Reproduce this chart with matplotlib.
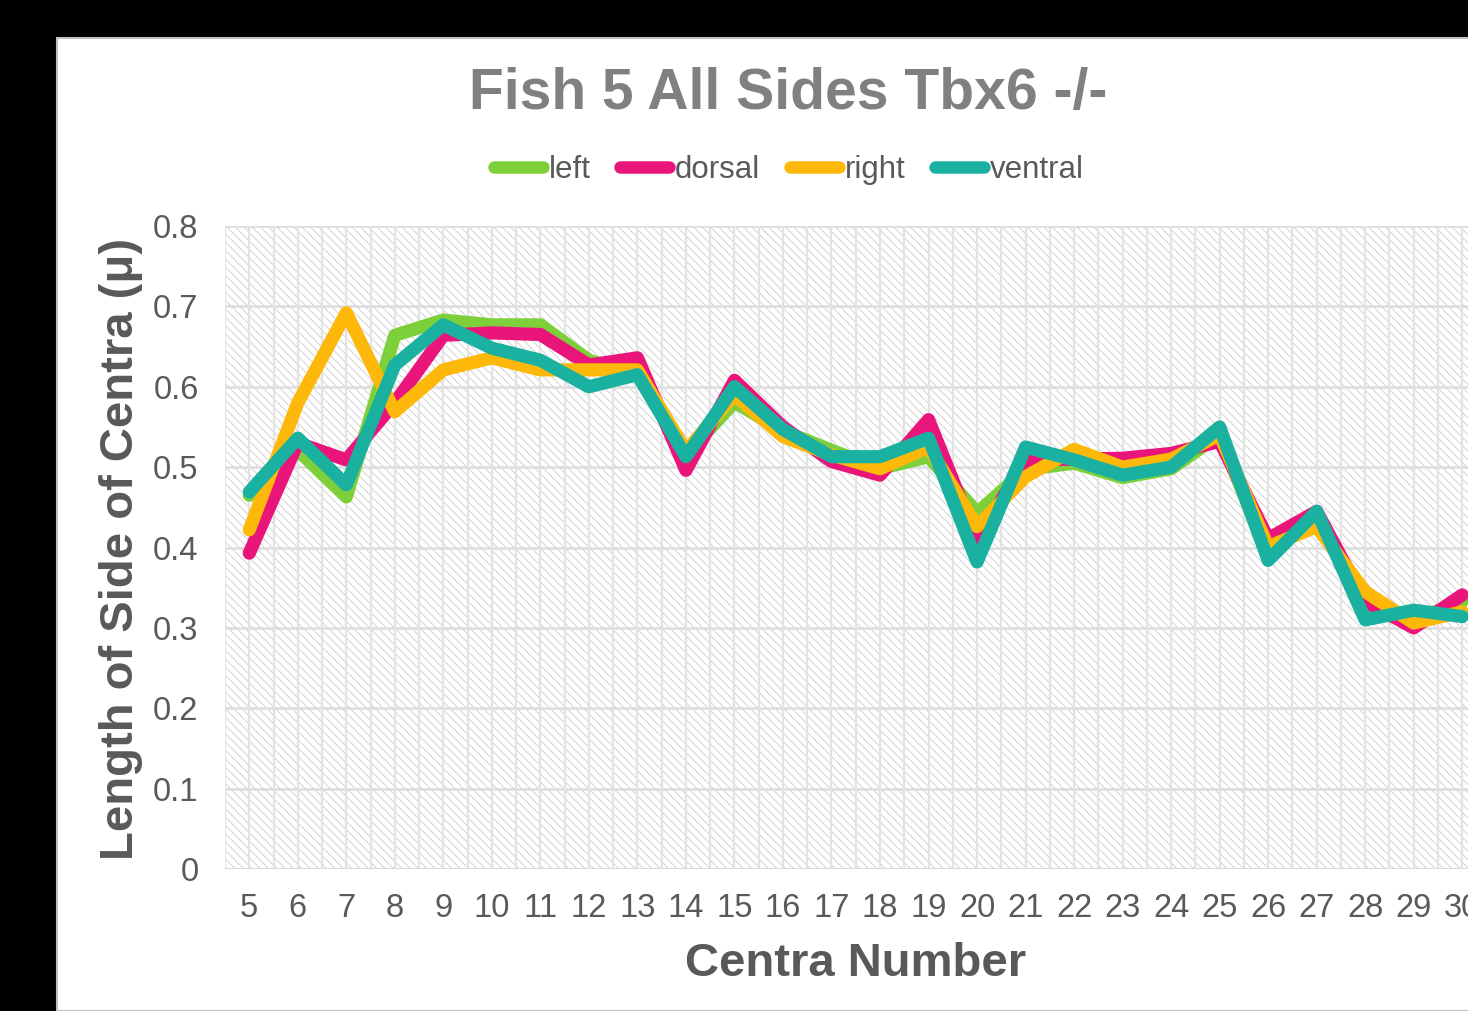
import matplotlib
matplotlib.use("Agg")
import matplotlib.pyplot as plt
from matplotlib.patches import Rectangle
from matplotlib.lines import Line2D

plt.rcParams['font.family'] = ['Liberation Sans', 'DejaVu Sans']
plt.rcParams['hatch.linewidth'] = 0.7
plt.rcParams['hatch.color'] = '#d2d2d2'

categories = [str(c) for c in range(5, 31)]
left = [0.465, 0.521, 0.463, 0.664, 0.683, 0.677, 0.677, 0.633, 0.615, 0.515, 0.581, 0.545, 0.521, 0.498, 0.513, 0.443, 0.497, 0.505, 0.487, 0.498, 0.540, 0.390, 0.440, 0.320, 0.310, 0.333]
dorsal = [0.393, 0.530, 0.509, 0.580, 0.664, 0.667, 0.665, 0.627, 0.636, 0.496, 0.608, 0.550, 0.507, 0.490, 0.559, 0.409, 0.509, 0.510, 0.511, 0.517, 0.532, 0.411, 0.445, 0.333, 0.300, 0.341]
right = [0.422, 0.580, 0.692, 0.569, 0.621, 0.636, 0.621, 0.621, 0.621, 0.520, 0.590, 0.538, 0.515, 0.498, 0.525, 0.426, 0.488, 0.522, 0.500, 0.510, 0.540, 0.401, 0.426, 0.345, 0.306, 0.320]
ventral = [0.469, 0.536, 0.478, 0.627, 0.677, 0.648, 0.633, 0.600, 0.615, 0.513, 0.600, 0.547, 0.513, 0.513, 0.536, 0.382, 0.525, 0.509, 0.490, 0.500, 0.550, 0.384, 0.445, 0.310, 0.322, 0.314]
series_names = ['left', 'dorsal', 'right', 'ventral']
series_colors = ['#7ed03b', '#ea157a', '#feb80a', '#1bb1a0']
yticks = [0, 0.1, 0.2, 0.3, 0.4, 0.5, 0.6, 0.7, 0.8]
ytick_labels = ['0', '0.1', '0.2', '0.3', '0.4', '0.5', '0.6', '0.7', '0.8']

W, H = 1468, 1011
fig = plt.figure(figsize=(W / 100, H / 100), dpi=100, facecolor='black')

# white chart panel
panel = Rectangle((57 / W, 0), 1.2, 1 - 38 / H, transform=fig.transFigure,
                  facecolor='white', edgecolor='#c0c0c0', linewidth=1.5, zorder=-10)
fig.patches.append(panel)

ax_left, ax_right = 225 / W, 1486.5 / W
ax_bottom, ax_top = 1 - 869 / H, 1 - 226 / H
ax = fig.add_axes([ax_left, ax_bottom, ax_right - ax_left, ax_top - ax_bottom])
ax.set_zorder(1)
ax.set_facecolor('white')
ax.patch.set_hatch('\\' * 4)
ax.patch.set_edgecolor('#d2d2d2')
ax.patch.set_linewidth(0)

x = list(range(len(categories)))
ax.set_xlim(-0.5, len(categories) - 0.5)
ax.set_ylim(0, 0.8)

# gridlines
for yy in yticks:
    ax.axhline(yy, color='#dcdcdc', lw=1.8, zorder=1)
for i in range(len(categories) + 1):
    ax.axvline(i - 0.5, color='#e3e3e3', lw=1.6, zorder=1)
    ax.axvline(i, color='#e3e3e3', lw=1.6, zorder=1)
ax.axhline(0, color='#d9d9d9', lw=2, zorder=2)

data = [left, dorsal, right, ventral]
for vals, name, col in zip(data, series_names, series_colors):
    ax.plot(x, vals, color=col, lw=9.5, solid_capstyle='round',
            solid_joinstyle='round', zorder=3, label=name)

for s in ax.spines.values():
    s.set_visible(False)
ax.set_xticks(x)
ax.set_xticklabels(categories)
ax.set_yticks(yticks)
ax.set_yticklabels(ytick_labels)
ax.tick_params(axis='both', length=0, labelsize=23.5, labelcolor='#595959')
ax.tick_params(axis='x', pad=17)
ax.tick_params(axis='y', pad=19)

fig.text(788 / W, 1 - 94 / H, 'Fish 5 All Sides Tbx6 -/-', ha='center', va='center',
         fontsize=41, fontweight='bold', color='#808080')
fig.text(856 / W, 1 - 964 / H, 'Centra Number', ha='center', va='center',
         fontsize=34, fontweight='bold', color='#595959')
fig.text(121 / W, 1 - 549 / H, 'Length of Side of Centra (μ)', ha='center', va='center',
         rotation=90, fontsize=34, fontweight='bold', color='#595959')

handles = [Line2D([0], [0], color=c, lw=9, solid_capstyle='round') for c in series_colors]
leg = fig.legend(handles, series_names, loc='center', bbox_to_anchor=(789 / W, 1 - 170 / H),
                 ncol=4, frameon=False, fontsize=22.5, handlelength=1.55, handletextpad=0.2,
                 columnspacing=0.95, labelcolor='#595959')

fig.savefig('out.png', dpi=100, facecolor='black')
